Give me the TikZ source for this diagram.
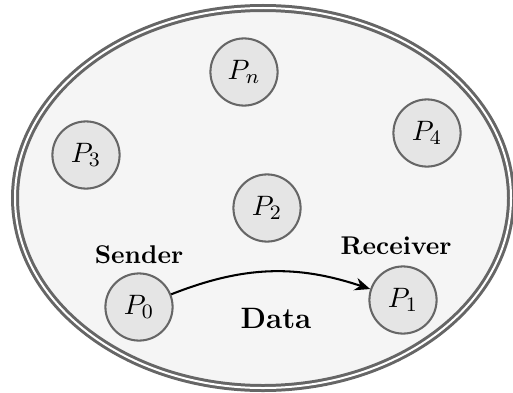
\documentclass[tikz,border=0pt]{standalone}
\usetikzlibrary{arrows.meta}
\begin{document}
\begin{tikzpicture}[x=0.39pt,y=0.39pt,
  proc/.style={circle,draw=black!60,fill=black!10,line width=0.8pt,minimum size=26.2pt,inner sep=0pt,font=\fontsize{11}{13}\selectfont},
  lbl/.style={font=\bfseries},
  world/.style={draw=black!60,double=white,line width=1.17pt,double distance=0.78pt,fill=black!4}]
\useasboundingbox (0,0) rectangle (513,392);
\path[world] (263,194) ellipse [x radius=248, y radius=190];
\node[proc] (pn) at (244,320) {$P_n$};
\node[proc] (p3) at (86,237) {$P_3$};
\node[proc] (p4) at (427,259) {$P_4$};
\node[proc] (p2) at (267,184) {$P_2$};
\node[proc] (p0) at (139,85) {$P_0$};
\node[proc] (p1) at (403,92) {$P_1$};
\node[lbl] (snd) at (139,137) {Sender};
\node[lbl] (rcv) at (396,146) {Receiver};
\node[lbl,font=\bfseries\fontsize{11.5}{14}\selectfont] (data) at (276,74) {Data};
\draw[-{Stealth[length=6pt,width=5pt,inset=2pt]},line width=0.8pt] (p0) to[bend left=20] (p1);
\end{tikzpicture}
\end{document}
